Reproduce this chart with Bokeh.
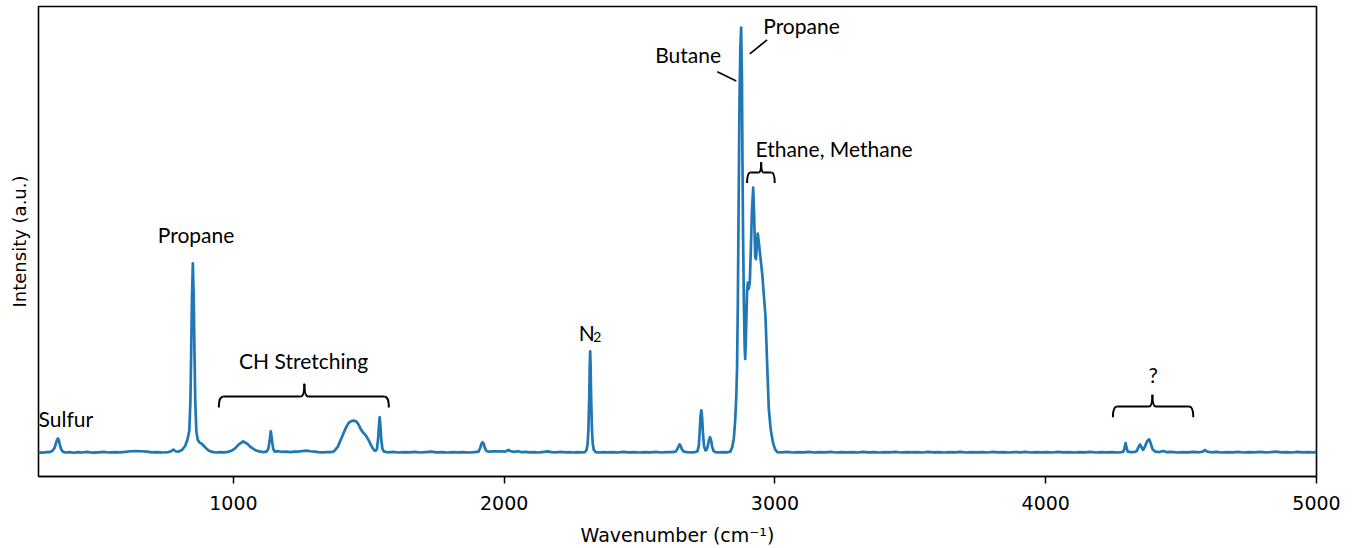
from bokeh.plotting import figure
from bokeh.models import Range1d, FixedTicker, ColumnDataSource
from bokeh.core.properties import value
from bokeh.embed import file_html
from bokeh.resources import INLINE

# ---------------- data ----------------
wavenumber = [
    280, 295, 310, 322, 332, 340, 345, 349, 352, 355, 359, 364, 370, 380, 395, 410, 425, 440,
    460, 480, 500, 520, 540, 560, 580, 600, 620, 640, 660, 680, 700, 720, 740, 760, 770, 778,
    786, 796, 810, 822, 830, 837, 841, 844, 847, 850, 853, 856, 859, 863, 868, 874, 882, 890,
    900, 910, 922, 935, 950, 965, 980, 992, 1005, 1020, 1036, 1050, 1065, 1080, 1095, 1110,
    1122, 1129, 1134, 1138, 1142, 1147, 1153, 1165, 1180, 1195, 1210, 1225, 1240, 1255, 1270,
    1285, 1300, 1315, 1330, 1345, 1360, 1372, 1385, 1395, 1405, 1415, 1425, 1435, 1445, 1454,
    1462, 1470, 1480, 1490, 1500, 1510, 1518, 1525, 1530, 1534, 1537, 1540, 1543, 1546, 1550,
    1556, 1570, 1590, 1610, 1630, 1650, 1670, 1690, 1710, 1730, 1750, 1770, 1790, 1810, 1830,
    1850, 1870, 1890, 1905, 1911, 1916, 1920, 1924, 1929, 1935, 1945, 1960, 1975, 1990, 2002,
    2010, 2016, 2022, 2035, 2050, 2065, 2080, 2095, 2110, 2125, 2140, 2160, 2175, 2190, 2210,
    2225, 2240, 2255, 2270, 2285, 2298, 2304, 2308, 2311, 2314, 2316, 2317.5, 2319, 2321, 2324,
    2327, 2331, 2338, 2350, 2365, 2380, 2400, 2420, 2440, 2460, 2480, 2500, 2520, 2540, 2560,
    2580, 2600, 2620, 2633, 2640, 2645, 2648, 2651, 2656, 2663, 2675, 2690, 2705, 2714, 2719,
    2722, 2725, 2728, 2731, 2734, 2738, 2743, 2747, 2752, 2756, 2760, 2764, 2768, 2773, 2780,
    2795, 2810, 2825, 2835, 2842, 2848, 2853, 2857, 2860, 2863, 2866, 2869, 2872, 2875, 2878,
    2880, 2882, 2885, 2888, 2890, 2893, 2897, 2900, 2903, 2907, 2911, 2915, 2919.5, 2923, 2927,
    2930, 2933, 2936.5, 2941, 2947, 2953, 2959, 2965, 2971, 2977, 2984, 2992, 3000, 3008, 3025,
    3045, 3065, 3085, 3105, 3125, 3145, 3165, 3185, 3205, 3225, 3245, 3265, 3285, 3305, 3325,
    3345, 3365, 3385, 3405, 3425, 3445, 3465, 3485, 3505, 3525, 3545, 3565, 3585, 3605, 3625,
    3645, 3665, 3685, 3705, 3725, 3745, 3765, 3785, 3805, 3825, 3845, 3865, 3885, 3905, 3925,
    3945, 3965, 3985, 4005, 4025, 4045, 4065, 4085, 4105, 4125, 4145, 4165, 4185, 4205, 4225,
    4245, 4265, 4280, 4287, 4291, 4295, 4299, 4303, 4315, 4328, 4336, 4342, 4348, 4354, 4360,
    4367, 4375, 4382, 4388, 4395, 4405, 4420, 4434, 4445, 4465, 4485, 4505, 4525, 4545, 4565,
    4580, 4588, 4596, 4610, 4630, 4650, 4670, 4690, 4710, 4730, 4750, 4770, 4790, 4810, 4830,
    4850, 4870, 4890, 4910, 4930, 4950, 4970, 4990, 5000,
]
intensity = [
    0.05, -0.05, 0.1, 0.1, 0.4, 1.2, 2.3, 3.1, 3.3, 2.9, 1.8, 0.7, 0.2, 0.0, 0.1, -0.05, 0.1, 0.0,
    0.15, -0.05, 0.05, 0.15, 0.0, 0.1, 0.05, 0.15, 0.3, 0.35, 0.3, 0.2, 0.05, 0.1, 0.0, 0.1, 0.3, 0.7,
    0.3, 0.2, 0.6, 1.6, 3.0, 5.2, 12, 24, 37, 44.5, 37, 24, 12, 5, 3.0, 2.4, 2.1, 1.6,
    0.9, 0.4, 0.15, 0.0, 0.1, 0.05, 0.15, 0.4, 0.9, 1.9, 2.6, 2.1, 1.2, 0.6, 0.25, 0.1,
    0.2, 0.9, 3.0, 5.0, 3.0, 0.8, 0.2, 0.3, 0.15, 0.2, 0.1, 0.2, 0.2, 0.35, 0.45,
    0.3, 0.2, 0.1, 0.05, 0.1, 0.1, 0.3, 1.3, 2.8, 4.3, 5.8, 6.9, 7.4, 7.5, 7.3,
    6.6, 5.5, 4.6, 3.9, 2.8, 1.5, 0.6, 0.4, 0.9, 3.0, 6.0, 8.3, 6.0, 3.0, 0.9,
    0.2, 0.05, 0.15, 0.0, 0.1, 0.05, 0.15, 0.0, 0.1, 0.2, 0.05, 0.1, 0.0, 0.1, 0.05,
    0.1, 0.0, 0.1, 0.2, 1.0, 2.1, 2.4, 2.1, 1.0, 0.3, 0.2, 0.3, 0.25, 0.3, 0.2,
    0.4, 0.6, 0.35, 0.15, 0.3, 0.1, 0.15, 0.05, 0.1, 0.0, 0.1, 0.25, 0.1, 0.05, 0.15,
    0.05, 0.1, 0.0, 0.1, 0.05, 0.1, 0.6, 2.0, 5.5, 13.0, 20.5, 23.8, 20.5, 13.0, 5.5,
    2.0, 0.6, 0.1, 0.0, 0.1, 0.05, 0.1, 0.0, 0.15, 0.05, 0.1, 0.0, 0.1, 0.05, 0.15,
    0.0, 0.1, 0.1, 0.2, 0.9, 1.6, 1.9, 1.6, 0.8, 0.2, 0.1, 0.0, 0.1, 0.3, 1.8,
    5.0, 8.6, 9.9, 8.2, 4.5, 1.5, 0.5, 0.6, 1.5, 2.9, 3.6, 2.9, 1.4, 0.4, 0.1,
    0.05, 0.1, 0.05, 0.2, 1.2, 3.3, 7.5, 13, 20, 36, 60, 83, 95, 100, 88,
    68, 52, 36, 25, 22, 28, 38, 40, 38.5, 40, 48, 57, 62.3, 56, 46,
    45.5, 49, 51.5, 49, 45.5, 42, 37, 32, 21, 10.5, 5.5, 2.5, 0.8, 0.1, 0.05,
    0.15, 0.0, 0.1, 0.05, 0.15, 0.0, 0.1, 0.05, 0.15, 0.0, 0.1, 0.05, 0.1, 0.0, 0.15,
    0.05, 0.1, 0.0, 0.1, 0.05, 0.15, 0.0, 0.1, 0.05, 0.1, 0.0, 0.15, 0.05, 0.1, 0.0,
    0.1, 0.05, 0.15, 0.0, 0.1, 0.05, 0.1, 0.0, 0.15, 0.05, 0.1, 0.0, 0.1, 0.05, 0.15,
    0.0, 0.1, 0.05, 0.1, 0.0, 0.15, 0.05, 0.1, 0.0, 0.1, 0.05, 0.15, 0.0, 0.1, 0.05,
    0.1, 0.0, 0.1, 0.2, 1.0, 2.2, 1.0, 0.2, 0.1, 0.15, 0.3, 1.2, 1.9, 1.2, 0.6,
    1.5, 2.7, 3.1, 2.1, 0.7, 0.2, 0.1, 0.35, 0.1, 0.15, 0.0, 0.1, 0.05, 0.15, 0.05,
    0.2, 0.6, 0.2, 0.05, 0.15, 0.0, 0.1, 0.05, 0.15, 0.0, 0.1, 0.05, 0.15, 0.05, 0.1,
    0.2, 0.05, 0.1, 0.0, 0.15, 0.05, 0.1, 0.05, 0.1,
]

x_ticks = [1000, 2000, 3000, 4000, 5000]

# peak labels (centre x, baseline y)
label_text = ["Sulfur", "Propane", "CH Stretching", "Butane", "Propane", "Ethane, Methane", "?", "N"]
label_x = [381, 862, 1259, 2679, 3098, 3218, 4397, 2305]
label_y = [8.0, 51.4, 21.6, 93.6, 100.4, 71.5, 18.4, 28.2]
sub_text = ["2"]
sub_x = [2344]
sub_y = [27.2]

# leader lines for Butane / Propane
lead_x0 = [2787, 2907]
lead_y0 = [89.6, 93.8]
lead_x1 = [2857, 2971]
lead_y1 = [87.4, 97.1]

# curly braces: start, end, cusp x, line y, end y, cusp y, corner width, cusp width
brace_x0 = [946, 2897, 4248]
brace_x1 = [1574, 2999, 4545]
brace_xc = [1262, 2949, 4394]
brace_yline = [13.2, 65.9, 10.8]
brace_yend = [10.6, 63.4, 8.3]
brace_ycusp = [16.2, 68.3, 13.6]
brace_dend = [17, 12, 16]
brace_dcusp = [14, 9, 13]

# ---------------- figure ----------------
p = figure(width=1353, height=548, x_range=Range1d(280, 5000), y_range=Range1d(-5.647, 104.94),
           output_backend="svg", toolbar_location=None,
           min_border_left=38, min_border_right=37, min_border_top=6, min_border_bottom=72)
p.background_fill_color = "white"
p.border_fill_color = "white"
p.xgrid.visible = False
p.ygrid.visible = False
p.outline_line_color = "black"
p.outline_line_width = 1.6
p.outline_line_alpha = 1.0

p.xaxis.ticker = FixedTicker(ticks=x_ticks)
p.xaxis.major_tick_out = 7
p.xaxis.major_tick_in = 0
p.xaxis.major_tick_line_width = 1.5
p.xaxis.minor_tick_line_color = None
p.xaxis.axis_line_color = "black"
p.xaxis.axis_line_width = 1.6
p.xaxis.major_label_text_font = "DejaVu Sans"
p.xaxis.major_label_text_font_size = "19px"
p.xaxis.major_label_text_color = "black"
p.xaxis.major_label_standoff = 12
p.xaxis.axis_label = "Wavenumber (cm\u207b\u00b9)"
p.xaxis.axis_label_text_font = "DejaVu Sans"
p.xaxis.axis_label_text_font_size = "19px"
p.xaxis.axis_label_text_font_style = "normal"
p.xaxis.axis_label_text_color = "black"
p.xaxis.axis_label_standoff = 11

p.yaxis.ticker = FixedTicker(ticks=[])
p.yaxis.major_tick_out = 0
p.yaxis.major_tick_in = 0
p.yaxis.minor_tick_line_color = None
p.yaxis.axis_line_color = None
p.yaxis.axis_label = "Intensity (a.u.)"
p.yaxis.axis_label_text_font = "DejaVu Sans"
p.yaxis.axis_label_text_font_size = "18px"
p.yaxis.axis_label_text_font_style = "normal"
p.yaxis.axis_label_text_color = "black"
p.yaxis.axis_label_standoff = 9

src = ColumnDataSource(dict(x=wavenumber, y=intensity))
p.line("x", "y", source=src, line_color="#1f77b4", line_width=2.7, line_join="round")

# labels
p.text(x=label_x, y=label_y, text=label_text, text_font=value("Lato"), text_font_size="21px",
       text_align="center", text_baseline="alphabetic", text_color="black")
p.text(x=sub_x, y=sub_y, text=sub_text, text_font=value("Lato"), text_font_size="14px",
       text_align="center", text_baseline="alphabetic", text_color="black")

p.segment(x0=lead_x0, y0=lead_y0, x1=lead_x1, y1=lead_y1, line_color="black", line_width=1.6)

# braces built from their parameters
qx0, qy0, qx1, qy1, qcx, qcy = [], [], [], [], [], []
sx0, sy0, sx1, sy1 = [], [], [], []
for x0, x1, xc, yl, ye, yc, de, dc in zip(brace_x0, brace_x1, brace_xc, brace_yline,
                                          brace_yend, brace_ycusp, brace_dend, brace_dcusp):
    qx0 += [x0]; qy0 += [ye]; qx1 += [x0 + de]; qy1 += [yl]; qcx += [x0]; qcy += [yl]
    qx0 += [x1]; qy0 += [ye]; qx1 += [x1 - de]; qy1 += [yl]; qcx += [x1]; qcy += [yl]
    qx0 += [xc - dc]; qy0 += [yl]; qx1 += [xc]; qy1 += [yc]; qcx += [xc]; qcy += [yl]
    qx0 += [xc + dc]; qy0 += [yl]; qx1 += [xc]; qy1 += [yc]; qcx += [xc]; qcy += [yl]
    sx0 += [x0 + de, xc + dc]; sy0 += [yl, yl]; sx1 += [xc - dc, x1 - de]; sy1 += [yl, yl]

p.quadratic(x0=qx0, y0=qy0, x1=qx1, y1=qy1, cx=qcx, cy=qcy, line_color="black", line_width=2)
p.segment(x0=sx0, y0=sy0, x1=sx1, y1=sy1, line_color="black", line_width=2)

open("out.html", "w").write(file_html(p, INLINE))
